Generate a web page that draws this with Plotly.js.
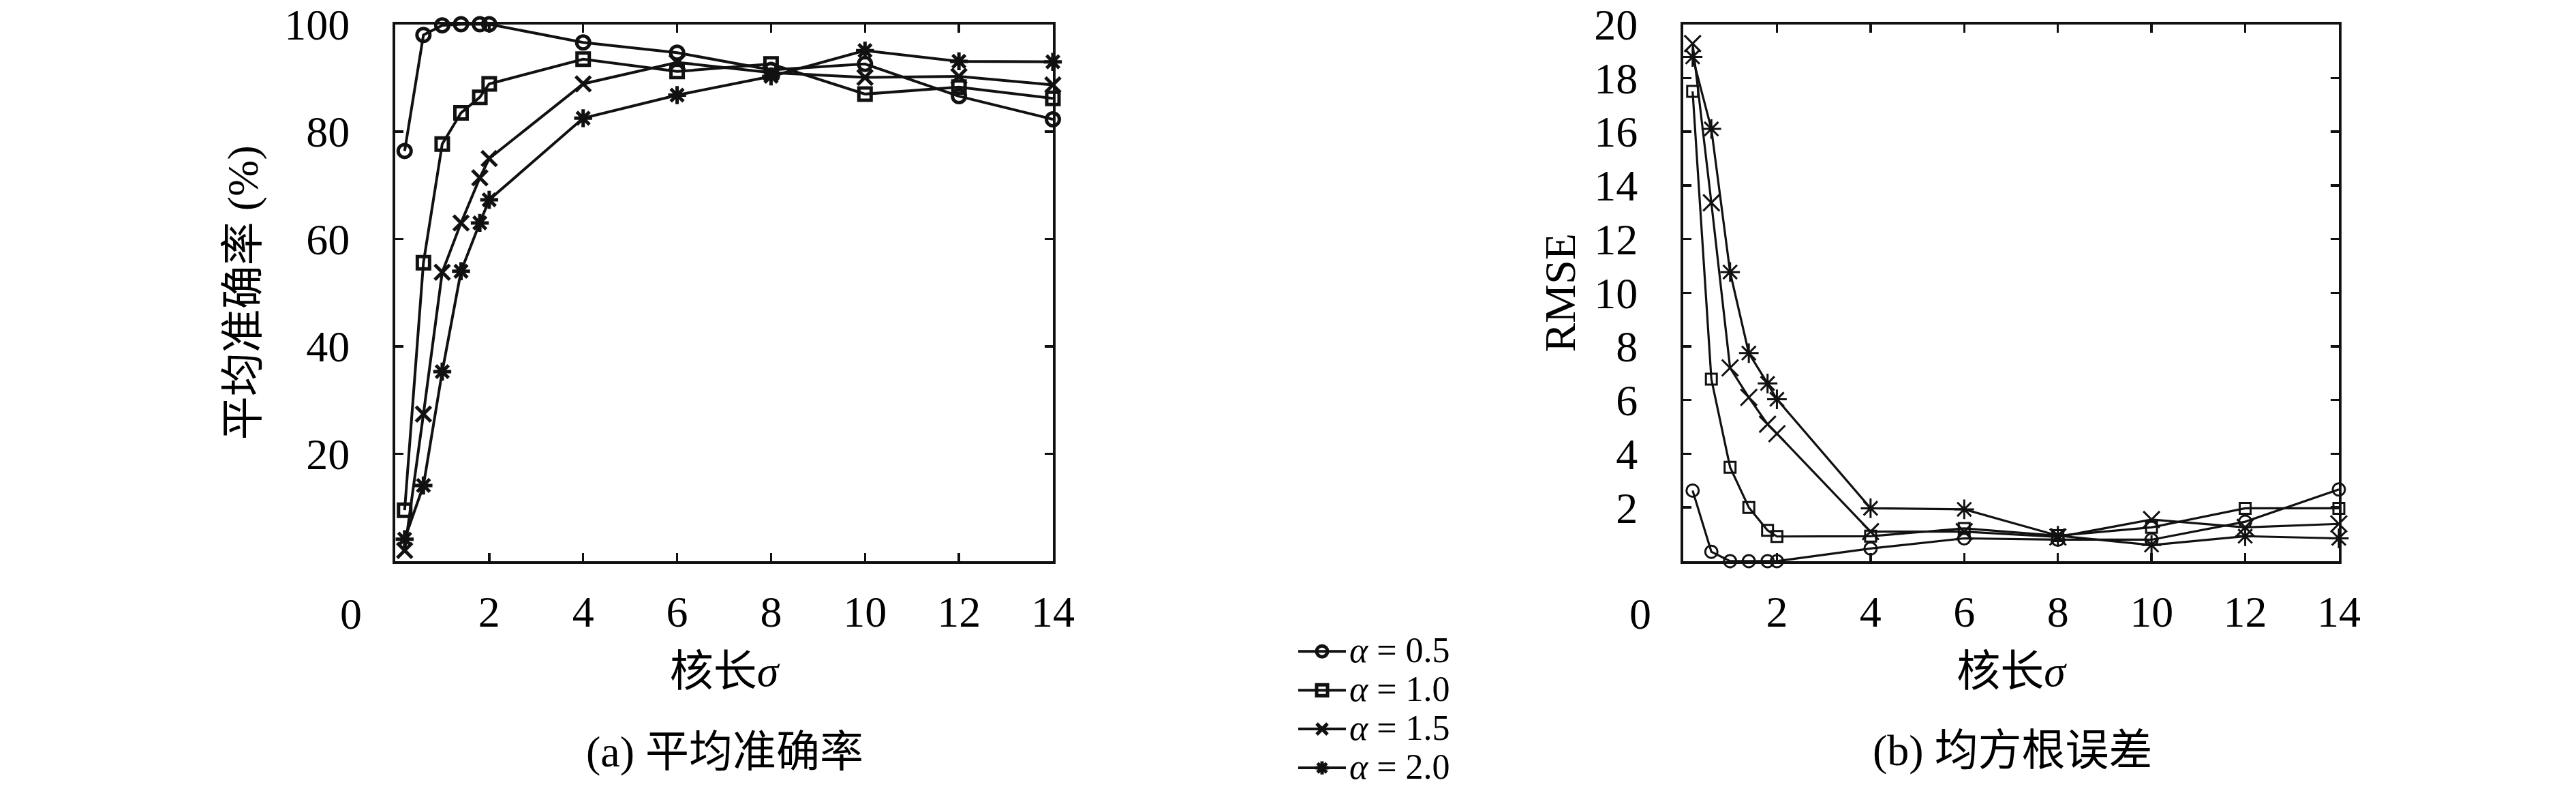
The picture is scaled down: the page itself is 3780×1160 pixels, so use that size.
<!DOCTYPE html>
<html>
<head>
<meta charset="utf-8">
<script src="https://cdn.plot.ly/plotly-3.0.1.min.js"></script>
<style>
  html, body { margin: 0; padding: 0; background: #fff; }
  #chart { width: 3780px; height: 1160px; }
</style>
</head>
<body>
<div id="chart"></div>
<script>
// kernel length sigma
const sigma = [0.2, 0.6, 1.0, 1.4, 1.8, 2.0, 4, 6, 8, 10, 12, 14];

// (a) mean accuracy (%)
const acc05 = [76.4, 98.0, 99.8, 100, 100, 100, 96.6, 94.7, 91.5, 92.6, 86.6, 82.3];
const acc10 = [9.5, 55.6, 77.7, 83.5, 86.4, 88.9, 93.5, 91.2, 92.6, 87.0, 88.3, 86.2];
const acc15 = [2.0, 27.4, 53.8, 63.0, 71.4, 75.0, 88.9, 92.9, 91.0, 90.1, 90.3, 88.7];
const acc20 = [4.1, 14.1, 35.3, 54.0, 63.0, 67.3, 82.5, 86.8, 90.3, 95.1, 93.1, 93.0];

// (b) RMSE
const rmse05 = [2.63, 0.35, 0, 0, 0, 0, 0.47, 0.85, 0.8, 0.8, 1.47, 2.67];
const rmse10 = [17.5, 6.78, 3.5, 2.0, 1.15, 0.92, 0.93, 1.22, 0.95, 1.26, 1.97, 1.97];
const rmse15 = [19.28, 13.35, 7.2, 6.1, 5.1, 4.75, 1.1, 1.1, 0.9, 1.55, 1.26, 1.39];
const rmse20 = [18.78, 16.1, 10.77, 7.75, 6.62, 6.03, 1.97, 1.93, 0.95, 0.6, 0.93, 0.85];

const alphas = ["0.5", "1.0", "1.5", "2.0"];
const symbols = ["circle-open", "square-open", "x-thin-open", "asterisk-open"];
const accData = [acc05, acc10, acc15, acc20];
const rmseData = [rmse05, rmse10, rmse15, rmse20];

const xTicks = [2, 4, 6, 8, 10, 12, 14];
const accTicks = [20, 40, 60, 80, 100];
const rmseTicks = [2, 4, 6, 8, 10, 12, 14, 16, 18, 20];

const serif = "Liberation Serif, Noto Sans CJK SC, serif";
const ink = "#111";

// marker sizes differ a bit between the two panels
const sizeA = [19, 18, 22, 22];
const sizeB = [18, 16, 24, 24];

function legendLabel(a) {
  // thick math spaces around "=" like the LaTeX original
  return '<span style="font-size:52px"><i>α</i>\u2005=\u2005' + a + "</span>";
}

const traces = [];
accData.forEach((ys, i) => {
  traces.push({
    x: sigma,
    y: ys,
    xaxis: "x",
    yaxis: "y",
    name: legendLabel(alphas[i]),
    mode: "lines+markers",
    type: "scatter",
    line: { color: ink, width: 4 },
    marker: { symbol: symbols[i], size: sizeA[i], color: ink, line: { width: 5, color: ink } },
    cliponaxis: false,
  });
});
rmseData.forEach((ys, i) => {
  traces.push({
    x: sigma,
    y: ys,
    xaxis: "x2",
    yaxis: "y2",
    name: "α=" + alphas[i],
    showlegend: false,
    mode: "lines+markers",
    type: "scatter",
    line: { color: ink, width: 3.2 },
    marker: { symbol: symbols[i], size: sizeB[i], color: ink, line: { width: 3, color: ink } },
    cliponaxis: false,
  });
});

const W = 3780, H = 1160;
const yDom = [1 - 833 / H, 1 - 36 / H];

function xAxis(domain, anchor) {
  return {
    domain: domain,
    anchor: anchor,
    range: [0, 14],
    tickmode: "array",
    tickvals: xTicks,
    ticks: "inside",
    ticklen: 12,
    tickwidth: 3.5,
    tickcolor: ink,
    showline: true,
    linewidth: 4,
    linecolor: ink,
    mirror: "ticks",
    showgrid: false,
    zeroline: false,
    ticklabelstandoff: 15,
    ticklabeloverflow: "allow",
    tickfont: { family: serif, size: 64, color: "#000" },
    title: { text: "核长<i>σ</i>", font: { family: serif, size: 64, color: "#000" }, standoff: 30 },
  };
}
function yAxis(range, ticks, domain, anchor, title, standoff) {
  return {
    domain: domain,
    anchor: anchor,
    range: range,
    tickmode: "array",
    tickvals: ticks,
    ticks: "inside",
    ticklen: 12,
    tickwidth: 3.5,
    tickcolor: ink,
    showline: true,
    linewidth: 4,
    linecolor: ink,
    mirror: "ticks",
    showgrid: false,
    zeroline: false,
    ticklabelstandoff: 50,
    ticklabeloverflow: "allow",
    tickfont: { family: serif, size: 64, color: "#000" },
    title: { text: title, font: { family: serif, size: 64, color: "#000" }, standoff: standoff },
  };
}

const layout = {
  width: W,
  height: H,
  margin: { l: 0, r: 0, t: 0, b: 0 },
  paper_bgcolor: "#fff",
  plot_bgcolor: "#fff",
  xaxis: xAxis([580 / W, 1545 / W], "y"),
  yaxis: yAxis([0, 100], accTicks, yDom, "x", "平均准确率 (%)", 19),
  xaxis2: xAxis([2470 / W, 3432 / W], "y2"),
  yaxis2: yAxis([0, 20], rmseTicks, yDom, "x2", "RMSE", 8),
  showlegend: true,
  legend: {
    x: 1900 / W,
    xanchor: "left",
    y: 1 - 933 / H,
    yanchor: "top",
    bgcolor: "rgba(0,0,0,0)",
    borderwidth: 0,
    itemwidth: 70,
    font: { family: serif, size: 41.5, color: "#000" },
    tracegroupgap: 0,
  },
  annotations: [
    { text: "0", xref: "x", yref: "y", x: 0, y: 0, xshift: -65, yshift: -78, showarrow: false,
      font: { family: serif, size: 64, color: "#000" } },
    { text: "0", xref: "x2", yref: "y2", x: 0, y: 0, xshift: -63, yshift: -78, showarrow: false,
      font: { family: serif, size: 64, color: "#000" } },
    { text: "(a) 平均准确率", xref: "paper", yref: "paper", x: 1063 / W, y: 1 - 1116 / H,
      xanchor: "center", yanchor: "middle", showarrow: false,
      font: { family: serif, size: 64, color: "#000" } },
    { text: "(b) 均方根误差", xref: "paper", yref: "paper", x: 2953 / W, y: 1 - 1114 / H,
      xanchor: "center", yanchor: "middle", showarrow: false,
      font: { family: serif, size: 64, color: "#000" } },
  ],
};

Plotly.newPlot("chart", traces, layout, { staticPlot: true, displayModeBar: false });
</script>
</body>
</html>
